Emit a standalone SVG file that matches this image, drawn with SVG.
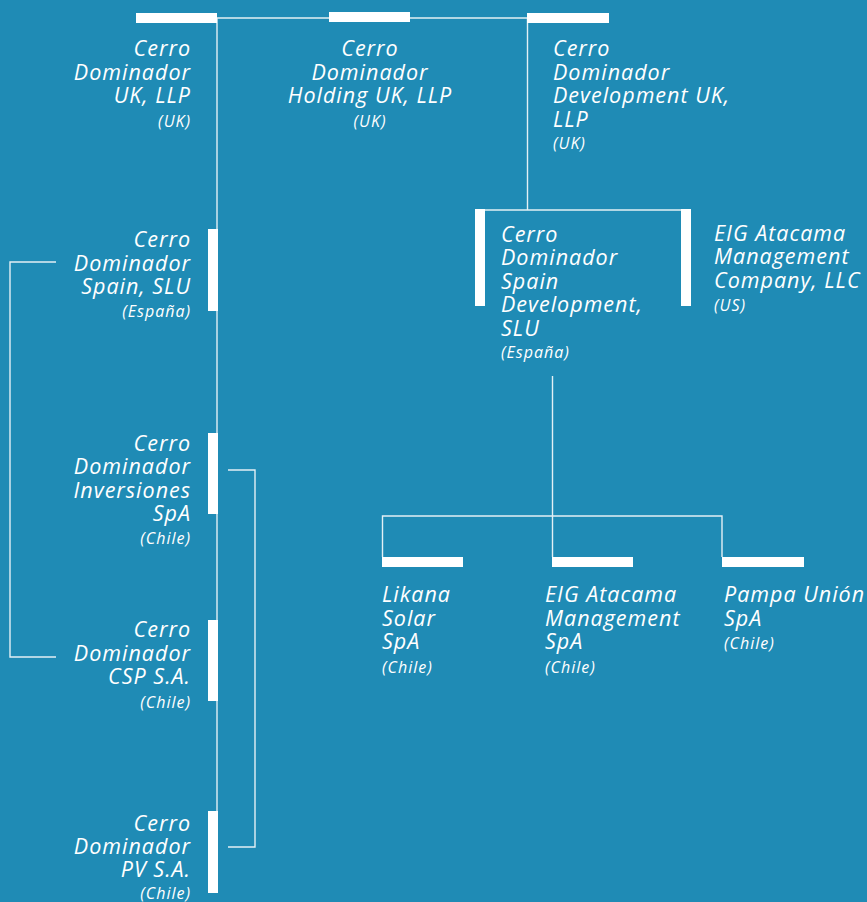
<svg xmlns="http://www.w3.org/2000/svg" width="867" height="902" viewBox="0 0 867 902">
<style>
.bg{fill:#1f8bb5}
.bar{fill:#ffffff}
.ln{fill:none;stroke:#e3f0f5;stroke-width:1.4}
text{font-family:"Open Sans","Noto Sans","Liberation Sans",sans-serif;font-style:italic;fill:#ffffff;letter-spacing:1px}
.t{font-size:21.5px}
.s{font-size:16px}
.r{text-anchor:end}
.c{text-anchor:middle}
</style>
<rect class="bg" x="0" y="0" width="867" height="902"/>
<g id="connectors">
<polyline class="ln" points="217,18 527,18"/>
<line class="ln" x1="217" y1="18" x2="217" y2="893"/>
<line class="ln" x1="527.5" y1="18" x2="527.5" y2="210"/>
<line class="ln" x1="485" y1="210" x2="682" y2="210"/>
<polyline class="ln" points="56,262 10,262 10,657 56,657"/>
<polyline class="ln" points="228,470 255,470 255,847 228,847"/>
<line class="ln" x1="552.5" y1="376" x2="552.5" y2="557"/>
<polyline class="ln" points="382.5,557 382.5,516 722,516 722,557"/>
</g>
<g id="n-uk-llp">
<rect class="bar" x="136" y="13" width="81" height="10"/>
<text class="t r" x="191"><tspan x="191" y="56">Cerro</tspan><tspan x="191" y="80">Dominador</tspan><tspan x="191" y="103">UK, LLP</tspan></text>
<text class="s r" x="191" y="127">(UK)</text>
</g>
<g id="n-holding">
<rect class="bar" x="329" y="12" width="81" height="10"/>
<text class="t c" x="370"><tspan x="370" y="56">Cerro</tspan><tspan x="370" y="80">Dominador</tspan><tspan x="370" y="103">Holding UK, LLP</tspan></text>
<text class="s c" x="370" y="127">(UK)</text>
</g>
<g id="n-development-uk">
<rect class="bar" x="527" y="13" width="82" height="10"/>
<text class="t" x="553"><tspan x="553" y="56">Cerro</tspan><tspan x="553" y="80">Dominador</tspan><tspan x="553" y="103">Development UK,</tspan><tspan x="553" y="127">LLP</tspan></text>
<text class="s" x="553" y="149">(UK)</text>
</g>
<g id="n-spain-slu">
<rect class="bar" x="208" y="229" width="10" height="82"/>
<text class="t r" x="191"><tspan x="191" y="247">Cerro</tspan><tspan x="191" y="271">Dominador</tspan><tspan x="191" y="294">Spain, SLU</tspan></text>
<text class="s r" x="191" y="317">(España)</text>
</g>
<g id="n-inversiones">
<rect class="bar" x="208" y="433" width="10" height="81"/>
<text class="t r" x="191"><tspan x="191" y="451">Cerro</tspan><tspan x="191" y="474">Dominador</tspan><tspan x="191" y="498">Inversiones</tspan><tspan x="191" y="521">SpA</tspan></text>
<text class="s r" x="191" y="544">(Chile)</text>
</g>
<g id="n-csp">
<rect class="bar" x="208" y="620" width="10" height="81"/>
<text class="t r" x="191"><tspan x="191" y="637">Cerro</tspan><tspan x="191" y="661">Dominador</tspan><tspan x="191" y="684">CSP S.A.</tspan></text>
<text class="s r" x="191" y="708">(Chile)</text>
</g>
<g id="n-pv">
<rect class="bar" x="208" y="811" width="10" height="82"/>
<text class="t r" x="191"><tspan x="191" y="831">Cerro</tspan><tspan x="191" y="854">Dominador</tspan><tspan x="191" y="877">PV S.A.</tspan></text>
<text class="s r" x="191" y="899">(Chile)</text>
</g>
<g id="n-spain-development">
<rect class="bar" x="475" y="209" width="10" height="97"/>
<text class="t" x="501"><tspan x="501" y="242">Cerro</tspan><tspan x="501" y="265">Dominador</tspan><tspan x="501" y="289">Spain</tspan><tspan x="501" y="312">Development,</tspan><tspan x="501" y="336">SLU</tspan></text>
<text class="s" x="501" y="358">(España)</text>
</g>
<g id="n-eig-company">
<rect class="bar" x="681" y="209" width="10" height="97"/>
<text class="t" x="714"><tspan x="714" y="241">EIG Atacama</tspan><tspan x="714" y="264">Management</tspan><tspan x="714" y="288">Company, LLC</tspan></text>
<text class="s" x="714" y="311">(US)</text>
</g>
<g id="n-likana">
<rect class="bar" x="382" y="557" width="81" height="10"/>
<text class="t" x="382"><tspan x="382" y="602">Likana</tspan><tspan x="382" y="626">Solar</tspan><tspan x="382" y="649">SpA</tspan></text>
<text class="s" x="382" y="673">(Chile)</text>
</g>
<g id="n-eig-spa">
<rect class="bar" x="552" y="557" width="81" height="10"/>
<text class="t" x="545"><tspan x="545" y="602">EIG Atacama</tspan><tspan x="545" y="626">Management</tspan><tspan x="545" y="649">SpA</tspan></text>
<text class="s" x="545" y="673">(Chile)</text>
</g>
<g id="n-pampa">
<rect class="bar" x="722" y="557" width="82" height="10"/>
<text class="t" x="724"><tspan x="724" y="602">Pampa Unión</tspan><tspan x="724" y="626">SpA</tspan></text>
<text class="s" x="724" y="649">(Chile)</text>
</g>
</svg>
